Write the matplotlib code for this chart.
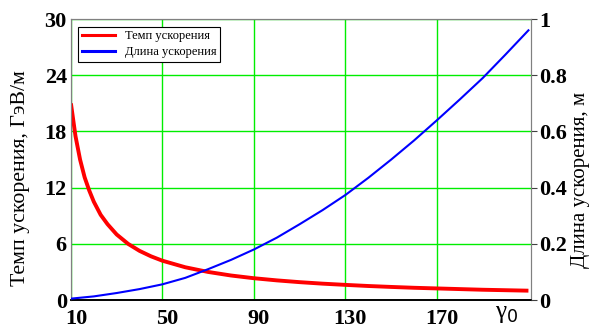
import matplotlib
matplotlib.use('Agg')
import matplotlib.pyplot as plt
import matplotlib.transforms as mtransforms

# gamma_0 values and the two curves
gamma_red = [10, 12, 14, 16, 18, 20, 23, 26, 30, 35, 40, 45, 50, 60, 70, 80, 90,
             100, 110, 120, 130, 140, 150, 160, 170, 180, 190, 200, 210]
rate = [21.0, 17.5, 15.0, 13.1, 11.7, 10.5, 9.1, 8.1, 7.0, 6.0, 5.25, 4.67, 4.2,
        3.5, 3.0, 2.62, 2.33, 2.1, 1.91, 1.75, 1.62, 1.5, 1.4, 1.31, 1.24, 1.17,
        1.1, 1.05, 1.0]

gamma_blue = [10, 20, 30, 40, 50, 60, 70, 80, 90, 100, 110, 120, 130, 140, 150,
              160, 170, 180, 190, 200, 210]
length = [0.005, 0.013, 0.025, 0.039, 0.056, 0.079, 0.11, 0.143, 0.18, 0.222,
          0.27, 0.32, 0.374, 0.435, 0.5, 0.568, 0.64, 0.714, 0.79, 0.874, 0.96]

x_ticks = [10, 50, 90, 130, 170]
left_ticks = [0, 6, 12, 18, 24, 30]
right_ticks = [0, 0.2, 0.4, 0.6, 0.8, 1]
right_labels = ['0', '0.2', '0.4', '0.6', '0.8', '1']

serif = ['Liberation Serif', 'DejaVu Serif']
plt.rcParams['font.family'] = serif

fig = plt.figure(figsize=(5.91, 3.29), dpi=100)
ax = fig.add_axes([0.120, 0.088, 0.778, 0.854])
ax2 = ax.twinx()

ax.plot(gamma_red, rate, color='#ff0000', lw=2.8, solid_capstyle='butt', zorder=3)
ax2.plot(gamma_blue, length, color='#0000ff', lw=1.5, zorder=3)

ax.set_xlim(10, 211)
ax.set_ylim(0, 30)
ax2.set_ylim(0, 1)

ax.set_xticks(x_ticks)
ax.set_yticks(left_ticks)
ax2.set_yticks(right_ticks)
ax2.set_yticklabels(right_labels)

ax.grid(True, color='#00ee00', lw=1.0)
ax.set_axisbelow(True)

for a in (ax, ax2):
    for s in ('left', 'right', 'top'):
        a.spines[s].set_color('#808080')
    a.spines['bottom'].set_color('black')
    a.spines['bottom'].set_linewidth(1.2)

ax.tick_params(axis='y', length=0, pad=3, labelsize=16)
ax.tick_params(axis='x', length=0, pad=6.5, labelsize=16)
ax2.tick_params(axis='y', length=4, color='#404040', direction='out', pad=2, labelsize=16)
# x labels sit a few pixels right of their grid lines in the original
shift = mtransforms.ScaledTranslation(5 / 100, 0, fig.dpi_scale_trans)
for lab in ax.get_xticklabels():
    lab.set_transform(lab.get_transform() + shift)
for lab in ax.get_xticklabels() + ax.get_yticklabels() + ax2.get_yticklabels():
    lab.set_fontweight('bold')

ax.set_ylabel('Темп ускорения, ГэВ/м', fontsize=15.7)
ax.yaxis.set_label_coords(-0.088, 0.434)
ax2.set_ylabel('Длина ускорения, м', fontsize=15)
ax2.yaxis.set_label_coords(1.088, 0.427)

fig.text(0.858, 0.012, 'γ$_0$', fontsize=18, ha='center', va='bottom')

# legend handles
h1, = ax.plot([], [], color='#ff0000', lw=2.2)
h2, = ax.plot([], [], color='#0000ff', lw=2.2)
leg = ax.legend([h1, h2], ['Темп ускорения', 'Длина ускорения'], loc='upper left',
                fontsize=9, fancybox=False, framealpha=1, edgecolor='black',
                borderaxespad=0.6, handlelength=2.6, borderpad=0.3, labelspacing=0.3)
leg.get_frame().set_linewidth(0.8)

fig.savefig('out.png', dpi=100)
